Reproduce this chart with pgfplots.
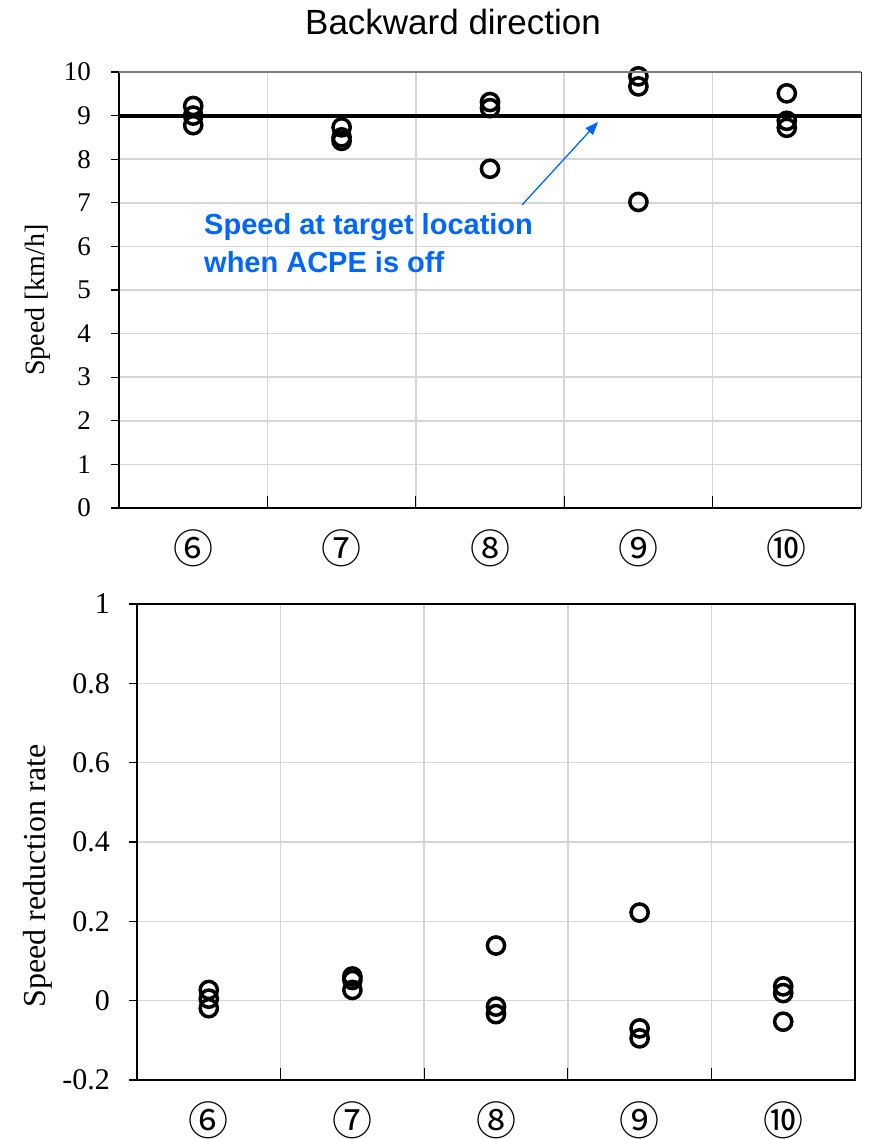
\documentclass[border=0pt]{standalone}
\usepackage{pgfplots}
\pgfplotsset{compat=1.18}
\usepackage{pgfplotstable}
\usepackage{fontspec}
\setmainfont{Liberation Serif}
\newfontfamily\sansf{Liberation Sans}
\newfontfamily\cjk{Noto Sans CJK JP}
\usetikzlibrary{arrows.meta}
\definecolor{annblue}{RGB}{0,102,255}
\definecolor{gridgray}{RGB}{214,214,214}

\pgfplotstableread{
x y
1 9.22
1 9.00
1 8.78
2 8.73
2 8.50
2 8.42
3 9.31
3 9.17
3 7.78
4 9.90
4 9.67
4 7.02
5 9.51
5 8.88
5 8.72
}\speedtab

\pgfplotstableread{
x y
1 0.027
1 0.005
1 -0.019
2 0.061
2 0.052
2 0.027
3 0.139
3 -0.015
3 -0.034
4 0.222
4 -0.070
4 -0.095
5 0.036
5 0.019
5 -0.053
}\ratetab

\pgfplotsset{
  common/.style={
    scale only axis,
    clip=false,
    xmin=0.5, xmax=5.5,
    xtick={1,2,3,4,5},
    xticklabels={⑥,⑦,⑧,⑨,⑩},
    minor xtick={1.5,2.5,3.5,4.5},
    xminorgrids=true, ymajorgrids=true,
    minor x grid style={gridgray, line width=1.6pt},
    major y grid style={gridgray, line width=1.6pt},
    major x tick style={draw=none},
    xtick align=inside, ytick align=outside,
    major tick length=8pt, minor tick length=12pt,
    every tick/.style={black, line width=1.3pt},
    xtick pos=bottom, ytick pos=left,
    xticklabel style={font=\cjk\fontsize{40}{40}\selectfont, anchor=center, yshift=-40pt},
  },
}

\begin{document}
\begin{tikzpicture}[x=1pt,y=1pt]
\useasboundingbox (0,0) rectangle (871,1139);

\begin{axis}[common,
  at={(119pt,631pt)}, anchor=south west,
  width=742pt, height=436pt,
  ymin=0, ymax=10,
  ytick={0,1,2,3,4,5,6,7,8,9,10},
  yticklabels={0,1,2,3,4,5,6,7,8,9,10},
  yticklabel style={font=\fontsize{27}{27}\selectfont, anchor=east, inner sep=0pt, xshift=-20pt},
  axis x line*=bottom, axis y line*=left,
  axis line style={-, line width=1.6pt, black},
  ylabel={Speed [km/h]},
  every axis y label/.style={at={(rel axis cs:0,0.5)}, anchor=center, xshift=-81pt, yshift=-10pt, rotate=90, font=\fontsize{28}{28}\selectfont},
  extra description/.code={
    \draw[black!50, line width=1.5pt] (rel axis cs:0,1) -- (rel axis cs:1,1);
    \draw[black!85, line width=1pt] (rel axis cs:1,0) -- (rel axis cs:1,1);
  },
]
\addplot[black, line width=4pt, forget plot] coordinates {(0.5,9) (5.5,9)};
\addplot[only marks, mark=o, mark size=8.6pt, mark options={black, line width=3.5pt}] table[x=x,y=y] {\speedtab};
\end{axis}

\begin{axis}[common,
  at={(137pt,59pt)}, anchor=south west,
  width=718pt, height=476pt,
  ymin=-0.2, ymax=1,
  ytick={-0.2,0,0.2,0.4,0.6,0.8,1},
  yticklabels={-0.2,0,0.2,0.4,0.6,0.8,1},
  yticklabel style={font=\fontsize{30}{30}\selectfont, anchor=east, inner sep=0pt, xshift=-19pt},
  axis line style={line width=1.6pt, black},
  ylabel={Speed reduction rate},
  every axis y label/.style={at={(rel axis cs:0,0.5)}, anchor=center, xshift=-99pt, yshift=-34pt, rotate=90, font=\fontsize{32}{32}\selectfont},
]
\addplot[only marks, mark=o, mark size=8.6pt, mark options={black, line width=3.5pt}] table[x=x,y=y] {\ratetab};
\end{axis}

\node[font=\sansf\fontsize{35}{35}\selectfont, anchor=center] at (453,1117) {Backward direction};
\node[font=\sansf\bfseries\fontsize{29}{29}\selectfont, text=annblue, anchor=base west, inner sep=0pt] at (204,904) {Speed at target location};
\node[font=\sansf\bfseries\fontsize{29}{29}\selectfont, text=annblue, anchor=base west, inner sep=0pt] at (204,866) {when ACPE is off};
\draw[annblue, line width=1.3pt, -{Triangle[length=13pt,width=10pt]}] (522,934) -- (598,1017);
\end{tikzpicture}
\end{document}
